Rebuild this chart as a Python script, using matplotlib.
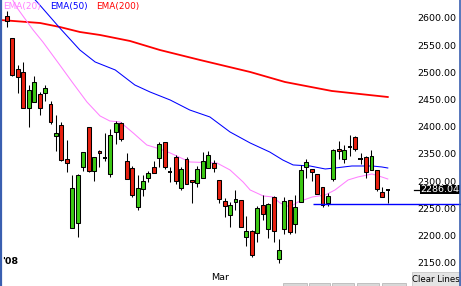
import matplotlib
matplotlib.use("Agg")
import matplotlib.pyplot as plt
from matplotlib.patches import Rectangle
import matplotlib.transforms as mtransforms

# daily candles, oldest first
opens = [2605.5, 2565.1, 2508.1, 2502.6, 2436.4, 2447.4, 2462.1, 2464.0, 2443.8, 2385.0,
         2405.2, 2342.7, 2215.9, 2225.0, 2328.0, 2401.5, 2320.6, 2357.4, 2344.5, 2315.1,
         2392.3, 2408.8, 2339.0, 2326.1, 2254.4, 2287.5, 2307.8, 2328.0, 2344.5, 2373.9,
         2318.8, 2346.4, 2289.4, 2342.7, 2304.1, 2298.6, 2307.8, 2326.1, 2335.3, 2304.1,
         2265.5, 2239.8, 2263.6, 2267.3, 2199.3, 2210.3, 2206.7, 2258.1, 2214.0, 2272.8,
         2158.9, 2214.0, 2267.3, 2223.2, 2263.6, 2328.0, 2324.3, 2315.1, 2291.2, 2261.8,
         2305.9, 2361.1, 2342.7, 2364.7, 2383.1, 2342.7, 2346.4, 2322.5, 2322.5, 2282.0,
         2286.04]
highs = [2614.7, 2565.1, 2515.5, 2521.0, 2478.7, 2495.2, 2465.8, 2478.7, 2449.3, 2423.6,
         2410.7, 2377.6, 2313.3, 2315.1, 2355.5, 2401.5, 2346.4, 2359.2, 2390.5, 2397.8,
         2412.5, 2410.7, 2353.7, 2329.8, 2313.3, 2313.3, 2320.6, 2339.0, 2373.9, 2373.9,
         2328.0, 2350.0, 2328.0, 2346.4, 2304.1, 2329.8, 2355.5, 2357.4, 2340.8, 2304.1,
         2271.0, 2263.6, 2285.7, 2267.3, 2237.9, 2212.2, 2256.3, 2276.5, 2261.8, 2274.7,
         2195.6, 2272.8, 2267.3, 2276.5, 2331.6, 2342.7, 2324.3, 2315.1, 2291.2, 2280.2,
         2361.1, 2375.8, 2368.4, 2386.8, 2385.0, 2353.7, 2348.2, 2359.2, 2322.5, 2291.2,
         2286.04]
lows = [2585.3, 2495.2, 2464.0, 2436.4, 2401.5, 2447.4, 2423.6, 2449.3, 2407.0, 2357.4,
        2339.0, 2318.8, 2215.9, 2199.3, 2320.6, 2318.8, 2302.2, 2328.0, 2339.0, 2309.6,
        2370.3, 2375.8, 2305.9, 2272.8, 2248.9, 2274.7, 2300.4, 2316.9, 2328.0, 2324.3,
        2300.4, 2296.7, 2285.7, 2296.7, 2261.8, 2291.2, 2307.8, 2326.1, 2318.8, 2261.8,
        2236.1, 2217.7, 2248.9, 2217.7, 2182.8, 2162.6, 2190.1, 2230.6, 2197.5, 2190.1,
        2151.5, 2204.8, 2204.8, 2206.7, 2263.6, 2307.8, 2302.2, 2278.3, 2254.4, 2256.3,
        2302.2, 2342.7, 2335.3, 2348.2, 2357.4, 2333.5, 2307.8, 2322.5, 2283.9, 2272.8,
        2261.8]
closes = [2596.3, 2497.1, 2493.4, 2436.4, 2469.5, 2484.2, 2436.4, 2473.2, 2410.7, 2390.5,
          2340.8, 2335.3, 2289.4, 2313.3, 2355.5, 2320.6, 2346.4, 2353.7, 2344.5, 2386.8,
          2408.8, 2379.4, 2305.9, 2276.5, 2289.4, 2302.2, 2316.9, 2316.9, 2370.3, 2328.0,
          2318.8, 2302.2, 2324.3, 2296.7, 2300.4, 2324.3, 2339.0, 2350.0, 2326.1, 2269.2,
          2256.3, 2258.1, 2269.2, 2217.7, 2210.3, 2166.2, 2252.6, 2241.6, 2260.0, 2210.3,
          2175.4, 2265.5, 2208.5, 2254.4, 2322.5, 2337.2, 2318.8, 2278.3, 2258.1, 2274.7,
          2359.2, 2357.4, 2359.2, 2364.7, 2361.1, 2342.7, 2318.8, 2348.2, 2287.5, 2272.8,
          2286.04]

# moving averages (bar index, value)
ema20_idx = [1.1, 2.0, 4.8, 6.6, 9.7, 12.1, 14.7, 17.1, 18.9, 20.8, 23.2, 25.7, 28.1, 30.0,
             33.6, 38.6, 41.0, 43.4, 44.7, 47.1, 48.9, 50.2, 52.0, 53.5, 56.1, 58.5, 60.3,
             62.7, 64.5, 67.1, 68.9, 70.0]
ema20_val = [2634.0, 2618.4, 2579.8, 2557.7, 2515.5, 2482.4, 2447.4, 2421.8, 2412.5, 2410.7,
             2390.5, 2368.4, 2361.1, 2353.7, 2337.2, 2335.3, 2322.5, 2300.4, 2285.7, 2274.7,
             2272.8, 2261.8, 2254.4, 2263.6, 2272.8, 2276.5, 2285.7, 2304.1, 2309.6, 2315.1,
             2309.6, 2305.9]
ema50_idx = [4.0, 5.7, 9.7, 13.4, 16.2, 19.9, 23.5, 26.3, 30.0, 33.6, 37.3, 41.0, 44.7, 48.3,
             50.7, 52.6, 55.7, 58.5, 60.3, 63.4, 67.1, 68.9, 70.0]
ema50_val = [2647.8, 2629.4, 2583.5, 2543.0, 2521.0, 2506.3, 2478.7, 2465.8, 2451.1, 2432.7,
             2419.9, 2392.3, 2372.1, 2355.5, 2340.8, 2331.7, 2329.8, 2324.3, 2326.1, 2329.8,
             2329.8, 2328.0, 2326.1]
ema200_idx = [-1.3, 6.1, 9.7, 13.4, 17.1, 22.6, 28.1, 35.5, 44.7, 51.1, 59.7, 64.9, 70.0]
ema200_val = [2598.2, 2592.6, 2585.3, 2576.1, 2570.6, 2559.6, 2543.0, 2524.6, 2502.6, 2484.2,
              2467.7, 2462.1, 2456.6]

price_ticks = [2150, 2200, 2250, 2300, 2350, 2400, 2450, 2500, 2550, 2600]
last_price = 2286.04
drawn_line = 2260.0
drawn_line_start = 56.25

RED = "#e82010"
GREEN = "#3cc814"
PINK = "#ff80ff"

fig = plt.figure(figsize=(4.61, 2.86), dpi=100)
ax = fig.add_axes([0, 0, 1, 1])
ax.set_xlim(-1.287, 83.46)
ax.set_ylim(2109.2, 2634.9)
ax.axis("off")

fs = 6.8

# candles
for k in range(len(opens)):
    o, h, l, c = opens[k], highs[k], lows[k], closes[k]
    ax.vlines(k, l, h, color="black", lw=0.75, zorder=3)
    if o == c:
        ax.hlines(o, k - 0.4, k + 0.4, color="black", lw=1.4, zorder=4)
        continue
    col = GREEN if c > o else RED
    ax.add_patch(Rectangle((k - 0.36, min(o, c)), 0.72, abs(c - o),
                           facecolor=col, edgecolor="black", lw=0.75, zorder=4))

ax.plot(ema200_idx, ema200_val, color="#ff0000", lw=1.3, zorder=2)
ax.plot(ema50_idx, ema50_val, color="#0000ff", lw=0.75, zorder=2)
ax.plot(ema20_idx, ema20_val, color=PINK, lw=0.75, zorder=2)

ax.hlines(drawn_line, drawn_line_start, 84, color="#0000ff", lw=1.0, zorder=5)

# price scale
tr = mtransforms.blended_transform_factory(ax.transAxes, ax.transData)
for p in price_ticks:
    ax.text(0.989, p, f"{p:.2f}", transform=tr, ha="right", va="center",
            fontsize=fs, color="black", zorder=6)

ax.add_patch(Rectangle((0.911, last_price - 8.3), 0.087, 16.6, transform=tr,
                       facecolor="black", edgecolor="none", zorder=7))
ax.text(0.996, last_price, f"{last_price:.2f}", transform=tr, ha="right", va="center",
        fontsize=fs, color="white", zorder=8)
ax.plot([0.898, 0.911], [last_price, last_price], transform=tr, color="black", lw=0.9, zorder=7)

# legend
leg_fs = 6.4
ax.text(0.006, 0.976, "EMA(20)", transform=ax.transAxes, color=PINK, fontsize=leg_fs,
        ha="left", va="center", zorder=6)
ax.text(0.108, 0.976, "EMA(50)", transform=ax.transAxes, color="#0000ff", fontsize=leg_fs,
        ha="left", va="center", zorder=6)
ax.text(0.208, 0.976, "EMA(200)", transform=ax.transAxes, color="#ff0000", fontsize=leg_fs,
        ha="left", va="center", zorder=6)

# date labels
ax.text(0.004, 0.084, "'08", transform=ax.transAxes, fontsize=fs, fontweight="bold",
        ha="left", va="center")
ax.text(0.477, 0.031, "Mar", transform=ax.transAxes, fontsize=fs, ha="center", va="center")

# bottom bar bits and button
for x0, x1 in [(283, 307), (309, 330), (332, 354), (357, 379), (382, 406)]:
    ax.add_patch(Rectangle((x0 / 461, 0), (x1 - x0) / 461, 3 / 286, transform=ax.transAxes,
                           facecolor="#d8d8d8", edgecolor="#b0b0b0", lw=0.5, zorder=6))
ax.add_patch(Rectangle((412 / 461, 0), 48 / 461, 14 / 286, transform=ax.transAxes,
                       facecolor="#e4e4e4", edgecolor="#c8c8c8", lw=0.6, zorder=6))
ax.text(436 / 461, 7 / 286, "Clear Lines", transform=ax.transAxes, fontsize=6.2,
        ha="center", va="center", zorder=7)

# window frame
ax.plot([0.002, 0.002], [0, 1], transform=ax.transAxes, color="#3a5fb0", lw=1.6, zorder=9)
ax.plot([0.997, 0.997], [0, 1], transform=ax.transAxes, color="#3a5fb0", lw=1.2, zorder=9)

fig.savefig("out.png", dpi=100)
